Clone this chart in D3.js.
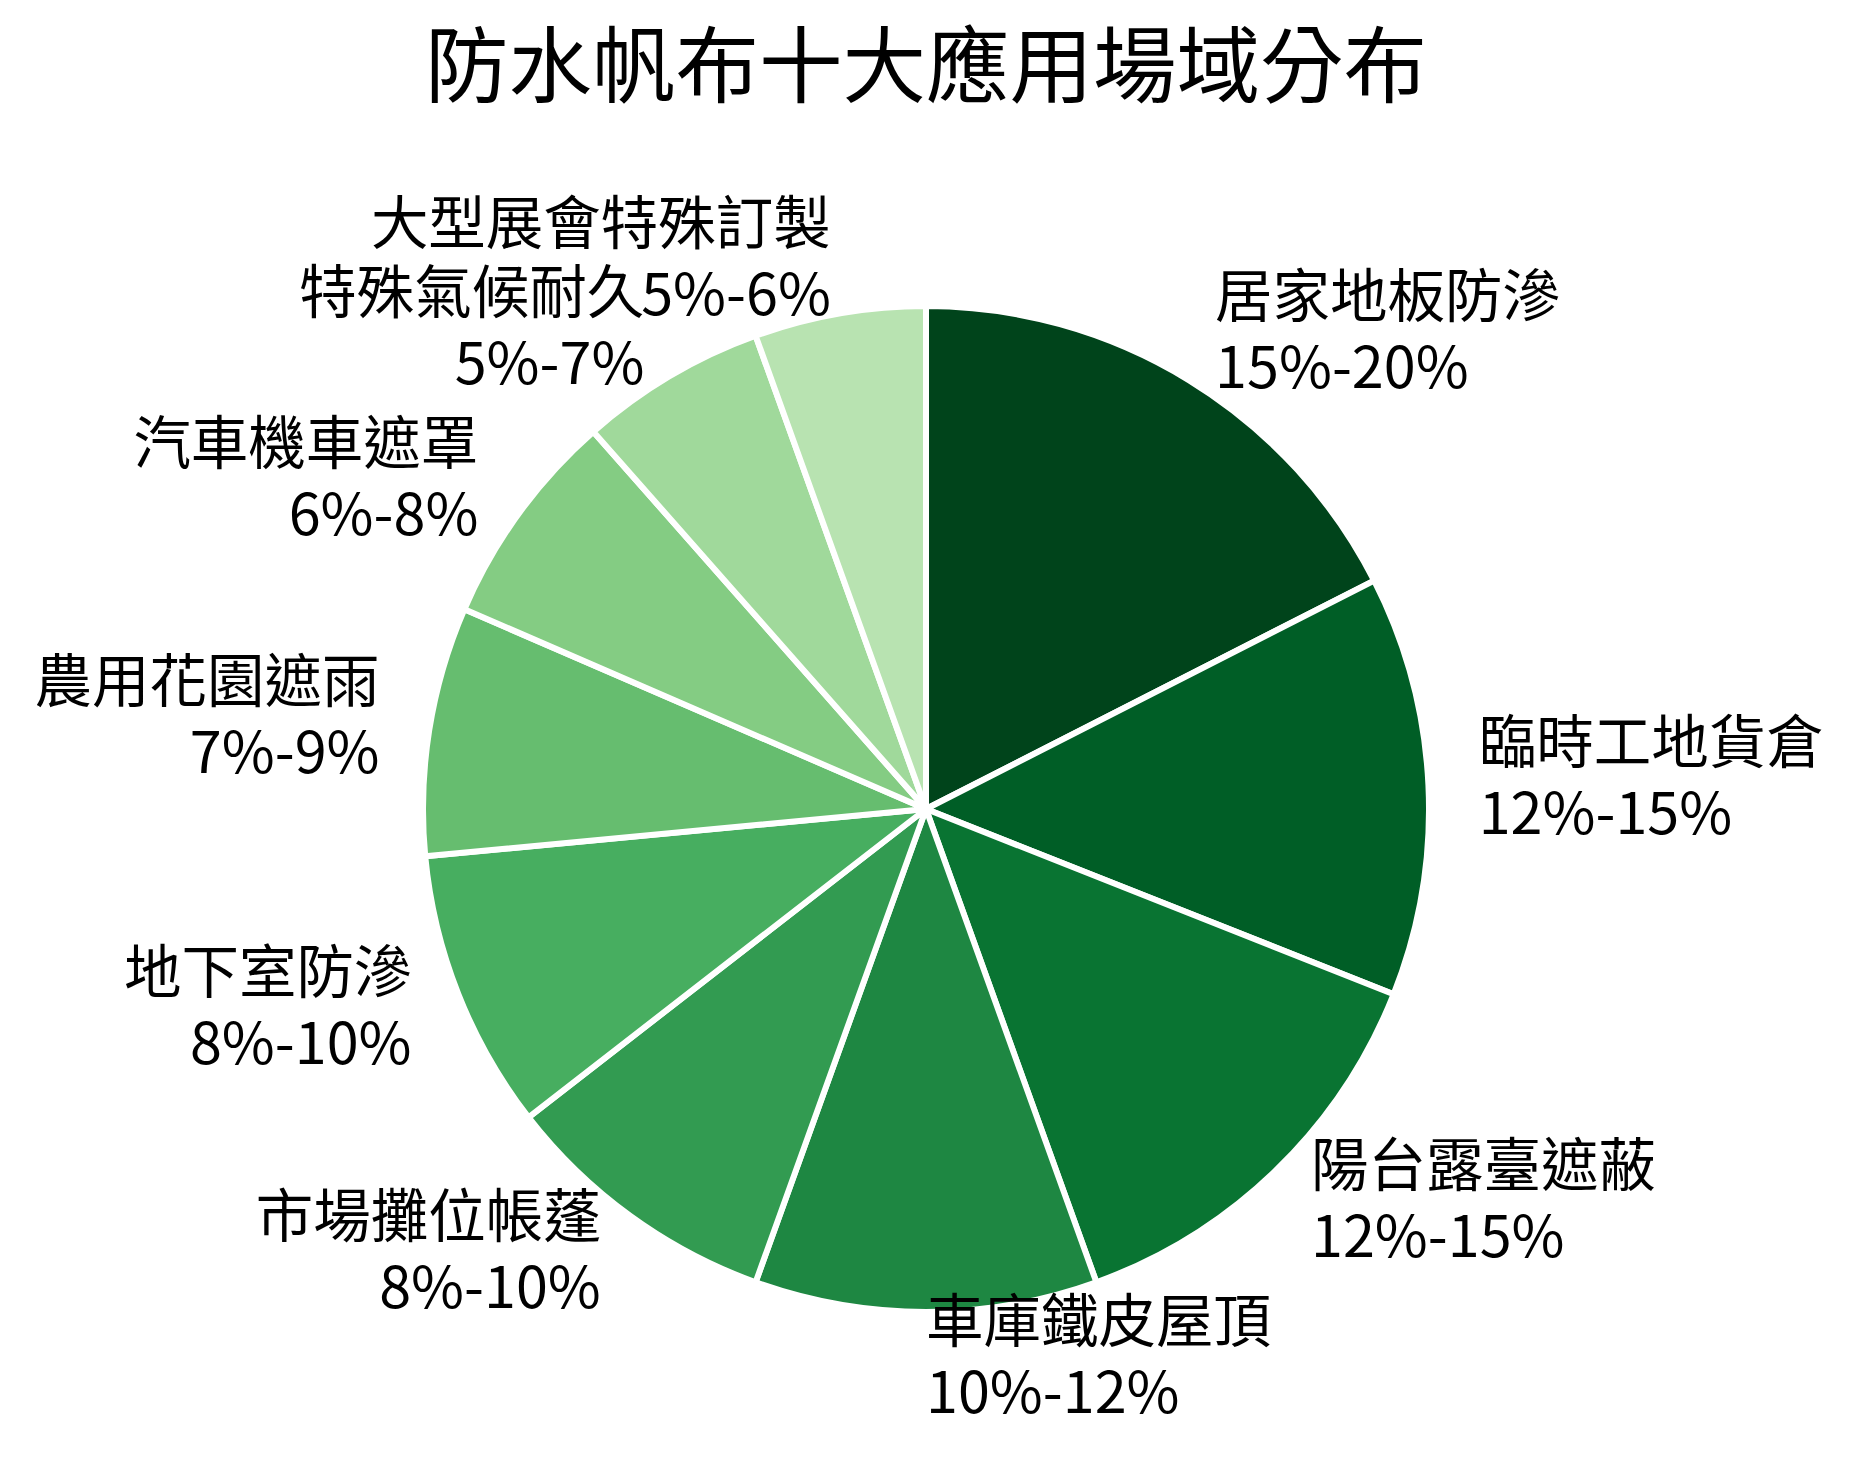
<!DOCTYPE html>
<html>
<head>
<meta charset="utf-8">
<script src="https://cdn.jsdelivr.net/npm/d3@7"></script>
<style>
  html, body { margin: 0; padding: 0; background: #fff; }
  text { font-family: "Noto Sans CJK TC", "Noto Sans CJK SC", "Noto Sans", sans-serif; fill: #000; }
</style>
</head>
<body>
<svg id="chart" width="1859" height="1468"></svg>
<script>
const title = "防水帆布十大應用場域分布";
const categories = ["居家地板防滲", "臨時工地貨倉", "陽台露臺遮蔽", "車庫鐵皮屋頂", "市場攤位帳蓬", "地下室防滲", "農用花園遮雨", "汽車機車遮罩", "特殊氣候耐久", "大型展會特殊訂製"];
const rangeLabels = ["15%-20%", "12%-15%", "12%-15%", "10%-12%", "8%-10%", "8%-10%", "7%-9%", "6%-8%", "5%-7%", "5%-6%"];
const values = [17.5, 13.5, 13.5, 11, 9, 9, 8, 7, 6, 5.5];
const colors = ["#00441b", "#005e26", "#097432", "#1e8742", "#329b51", "#47ae60", "#66bd6f", "#84cc83", "#a0d99b", "#b8e3b1"];

const W = 1859, H = 1468;
const cx = 926, cy = 809, R = 503;
const labelR = R * 1.1;
const fs = 57.5;

const svg = d3.select("#chart");

svg.append("text")
  .attr("x", cx).attr("y", 96)
  .attr("text-anchor", "middle")
  .style("font-size", "83.5px")
  .text(title);

const pie = d3.pie().sort(null).value(d => d)(values);
const arc = d3.arc().innerRadius(0).outerRadius(R);

const g = svg.append("g").attr("transform", `translate(${cx},${cy})`);

g.selectAll("path.slice")
  .data(pie)
  .join("path")
  .attr("class", "slice")
  .attr("d", arc)
  .attr("fill", (d, i) => colors[i])
  .attr("stroke", "#fff")
  .attr("stroke-width", 6)
  .attr("stroke-linejoin", "round");

g.selectAll("text.lbl")
  .data(pie)
  .join("text")
  .attr("class", "lbl")
  .style("font-size", fs + "px")
  .each(function(d, i) {
    const mid = (d.startAngle + d.endAngle) / 2;
    const x = labelR * Math.sin(mid);
    const y = -labelR * Math.cos(mid);
    const anchor = x > -1e-6 ? "start" : "end";
    const t = d3.select(this).attr("text-anchor", anchor);
    t.append("tspan").attr("x", x).attr("y", y - 0.35 * fs).text(categories[i]);
    t.append("tspan").attr("x", x).attr("y", y + 0.885 * fs).text(rangeLabels[i]);
  });
</script>
</body>
</html>
